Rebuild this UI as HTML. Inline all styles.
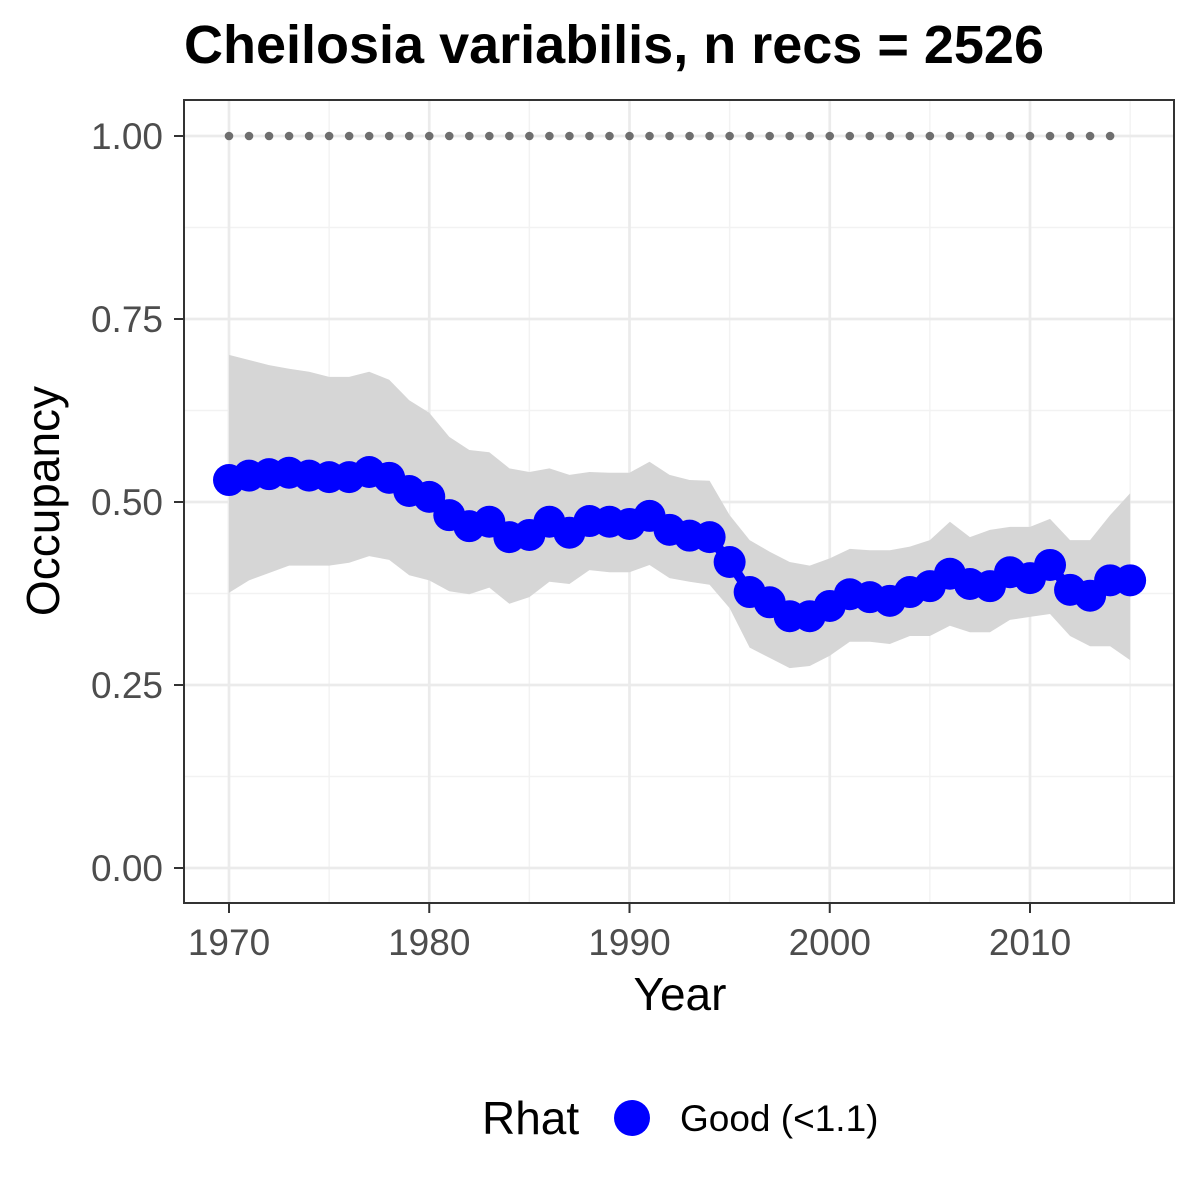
<!DOCTYPE html>
<html><head><meta charset="utf-8"><style>
body{margin:0;background:#fff;}
svg{display:block;font-family:"Liberation Sans",Arial,sans-serif;}
</style></head><body>
<svg id="chart" width="1200" height="1200" viewBox="0 0 1200 1200">
<rect width="1200" height="1200" fill="#fff"/>
<text x="184" y="63" font-size="54" font-weight="bold" fill="#000">Cheilosia variabilis, n recs = 2526</text>
<g id="grid"></g>
<g id="band"></g>
<g id="refdots"></g>
<g id="series"></g>
<rect x="184" y="100" width="990" height="803" fill="none" stroke="#333" stroke-width="2"/>
<g id="axes"></g>
<text x="680" y="1010" font-size="46" text-anchor="middle" fill="#000">Year</text>
<text transform="translate(59,501) rotate(-90)" font-size="46" text-anchor="middle" fill="#000">Occupancy</text>
<g>
<text x="482" y="1134" font-size="46" fill="#000">Rhat</text>
<circle cx="632" cy="1118" r="18" fill="#0000ff"/>
<text x="680" y="1131" font-size="37" fill="#000">Good (&lt;1.1)</text>
</g>
</svg>
<script>
const years=[1970,1971,1972,1973,1974,1975,1976,1977,1978,1979,1980,1981,1982,1983,1984,1985,1986,1987,1988,1989,1990,1991,1992,1993,1994,1995,1996,1997,1998,1999,2000,2001,2002,2003,2004,2005,2006,2007,2008,2009,2010,2011,2012,2013,2014,2015];
const occupancy=[0.530,0.536,0.538,0.540,0.536,0.534,0.534,0.541,0.533,0.515,0.507,0.482,0.467,0.473,0.452,0.455,0.473,0.458,0.474,0.473,0.470,0.481,0.462,0.454,0.452,0.418,0.377,0.363,0.344,0.344,0.358,0.374,0.370,0.365,0.377,0.385,0.402,0.388,0.385,0.404,0.396,0.414,0.380,0.372,0.393,0.393];
const upper=[0.701,0.694,0.687,0.682,0.678,0.671,0.671,0.678,0.667,0.639,0.622,0.589,0.571,0.568,0.546,0.541,0.546,0.537,0.541,0.540,0.540,0.555,0.537,0.530,0.529,0.482,0.448,0.432,0.418,0.413,0.423,0.436,0.434,0.434,0.439,0.448,0.473,0.452,0.462,0.466,0.466,0.477,0.448,0.448,0.482,0.512];
const lower=[0.376,0.393,0.403,0.413,0.413,0.413,0.417,0.426,0.421,0.400,0.393,0.378,0.374,0.383,0.361,0.370,0.391,0.388,0.407,0.404,0.404,0.414,0.396,0.391,0.387,0.355,0.301,0.287,0.273,0.276,0.290,0.309,0.309,0.306,0.317,0.317,0.331,0.322,0.322,0.339,0.343,0.347,0.317,0.303,0.303,0.284];
const refYears=[1970,1971,1972,1973,1974,1975,1976,1977,1978,1979,1980,1981,1982,1983,1984,1985,1986,1987,1988,1989,1990,1991,1992,1993,1994,1995,1996,1997,1998,1999,2000,2001,2002,2003,2004,2005,2006,2007,2008,2009,2010,2011,2012,2013,2014];
const refValue=1.0;
const xTicks=[1970,1980,1990,2000,2010];
const xMinor=[1975,1985,1995,2005,2015];
const yTicks=[0,0.25,0.5,0.75,1.0];
const yTickLabels=["0.00","0.25","0.50","0.75","1.00"];
const yMinor=[0.125,0.375,0.625,0.875];

const NS="http://www.w3.org/2000/svg";
const X=v=>229+(v-1970)*20.025;
const Y=v=>868-v*732;
function mk(tag,attrs,parent){const e=document.createElementNS(NS,tag);for(const k in attrs)e.setAttribute(k,attrs[k]);document.getElementById(parent).appendChild(e);return e;}

xMinor.forEach(v=>{const l=mk('line',{x1:X(v),x2:X(v),y1:100,y2:903,stroke:'#f2f2f2','stroke-width':1.4},'grid');

});
yMinor.forEach(v=>{const l=mk('line',{x1:184,x2:1174,y1:Y(v),y2:Y(v),stroke:'#f2f2f2','stroke-width':1.4},'grid');

});
xTicks.forEach(v=>{const l=mk('line',{x1:X(v),x2:X(v),y1:100,y2:903,stroke:'#ebebeb','stroke-width':2.7},'grid');

});
yTicks.forEach(v=>{const l=mk('line',{x1:184,x2:1174,y1:Y(v),y2:Y(v),stroke:'#ebebeb','stroke-width':2.7},'grid');

});

let d='M'+years.map((y,i)=>X(y)+','+Y(upper[i])).join('L');
for(let i=years.length-1;i>=0;i--)d+='L'+X(years[i])+','+Y(lower[i]);
const band=mk('path',{d:d+'Z',fill:'#d6d6d6'},'band');



refYears.forEach(y=>{const c=mk('circle',{cx:X(y),cy:Y(refValue),r:4.3,fill:'#6e6e6e'},'refdots');

});

const line=mk('polyline',{points:years.map((y,i)=>X(y)+','+Y(occupancy[i])).join(' '),fill:'none',stroke:'#0000ff','stroke-width':10,'stroke-linejoin':'round'},'series');


years.forEach((y,i)=>{const c=mk('circle',{cx:X(y),cy:Y(occupancy[i]),r:16,fill:'#0000ff'},'series');

});

xTicks.forEach(v=>{const t=mk('line',{x1:X(v),x2:X(v),y1:903,y2:913,stroke:'#333','stroke-width':2},'axes');


const s=mk('text',{x:X(v),y:955,'font-size':37,'text-anchor':'middle',fill:'#4d4d4d'},'axes');s.textContent=v;

});
yTicks.forEach((v,i)=>{const t=mk('line',{x1:174,x2:184,y1:Y(v),y2:Y(v),stroke:'#333','stroke-width':2},'axes');


const s=mk('text',{x:163,y:Y(v)+13,'font-size':37,'text-anchor':'end',fill:'#4d4d4d'},'axes');s.textContent=yTickLabels[i];

});
</script>
</body></html>
